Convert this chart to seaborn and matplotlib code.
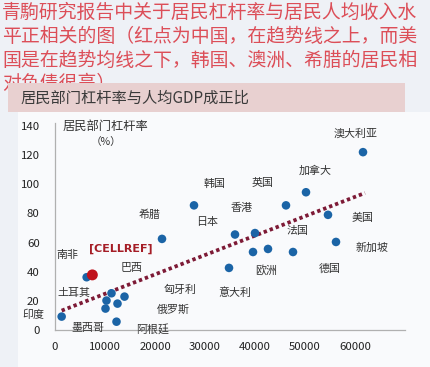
import numpy as np
import pandas as pd
import matplotlib
matplotlib.use("Agg")
import matplotlib.pyplot as plt
import seaborn as sns
from matplotlib.patches import Rectangle

sns.set_theme(style="white")
plt.rcParams['font.family'] = ['Noto Sans CJK SC', 'DejaVu Sans']

# --- datos ---
gdp = [61600, 50200, 46200, 54600, 27800, 21400, 36000, 40000, 39600, 42600,
       47600, 56200, 34800, 6330, 11300, 10300, 13900, 12500, 10100, 12300, 1330]
leverage = [122, 94.5, 85.5, 79, 85.5, 62.5, 65.5, 66.5, 53.5, 55.6,
            53.5, 60.4, 42.6, 36.2, 25.2, 20.2, 22.9, 18.1, 14.7, 5.7, 9.2]
china_gdp = [7470]
china_leverage = [37.8]
trend_gdp = [1330, 62000]
trend_leverage = [13.3, 94]

x_ticks = [0, 10000, 20000, 30000, 40000, 50000, 60000]
y_ticks = [0, 20, 40, 60, 80, 100, 120, 140]

# etiquetas de países (texto, x, y)
labels = [("澳大利亚", 60200, 134.5), ("加拿大", 52000, 109), ("韩国", 32000, 100),
          ("英国", 41600, 100.6), ("香港", 37400, 83.5), ("日本", 30400, 74),
          ("希腊", 19000, 79), ("法国", 48600, 68), ("美国", 61600, 77),
          ("新加坡", 63400, 56.5), ("德国", 55000, 42), ("欧洲", 42200, 40.7),
          ("意大利", 36000, 25.5), ("南非", 2400, 51.7), ("巴西", 15400, 42.7),
          ("土耳其", 3800, 25.5), ("匈牙利", 25000, 27.5), ("印度", -4400, 10.3),
          ("俄罗斯", 23600, 13.8), ("墨西哥", 6600, 1.4), ("阿根廷", 19600, 0.7)]

header = ["青駒研究报告中关于居民杠杆率与居民人均收入水",
          "平正相关的图（红点为中国，在趋势线之上，而美",
          "国是在趋势均线之下，韩国、澳洲、希腊的居民相",
          "对负债很高）"]

W, H = 431, 367
fig = plt.figure(figsize=(W / 100, H / 100), dpi=100, facecolor="#eef1f6")

# fondo claro de la zona del gráfico
fig.patches.append(Rectangle((18 / W, 0), 1, 1 - 112 / H, transform=fig.transFigure,
                             facecolor="#f9fafc", edgecolor="none", zorder=0))

# cabecera roja
for i, line in enumerate(header):
    fig.text(2 / W, 1 - (12.5 + i * 23.8) / H, line, color="#dc4e58", fontsize=13.6,
             va="center", ha="left", zorder=2)

# banda rosa con el título
fig.patches.append(Rectangle((8 / W, 1 - 112 / H), 397 / W, 29 / H, transform=fig.transFigure,
                             facecolor="#e8d0d0", edgecolor="none", zorder=5))
fig.text(20 / W, 1 - 98 / H, "居民部门杠杆率与人均GDP成正比", color="#3a3a3a",
         fontsize=11, fontweight="medium", va="center", ha="left", zorder=6)

ax = fig.add_axes([55 / W, 37 / H, 350 / W, 207 / H])
ax.set_zorder(10)
ax.patch.set_alpha(0)

df = pd.DataFrame({"gdp": gdp, "leverage": leverage})
sns.scatterplot(data=df, x="gdp", y="leverage", color="#1b64a6", s=38,
                edgecolor="none", ax=ax, zorder=3)
sns.scatterplot(x=china_gdp, y=china_leverage, color="#c0121c", s=62,
                edgecolor="none", ax=ax, zorder=4)
ax.plot(trend_gdp, trend_leverage, color="#7d1a36", linewidth=2.7,
        linestyle=(0, (0.9, 0.8)), zorder=2)

for txt, lx, ly in labels:
    ax.text(lx, ly, txt, fontsize=7.9, color="#333333", ha="center", va="center",
            clip_on=False)
ax.text(13200, 55.8, "[CELLREF]", fontsize=8, color="#a51d26", fontweight="bold",
        ha="center", va="center", family=["DejaVu Sans"])
ax.text(10000, 139.5, "居民部门杠杆率", fontsize=8.8, color="#333333", ha="center", va="center")
ax.text(10200, 129, "（%）", fontsize=7.6, color="#333333", ha="center", va="center")

ax.set_xlim(0, 70000)
ax.set_ylim(0, 142)
ax.set_xticks(x_ticks)
ax.set_yticks(y_ticks)
ax.set_xlabel("")
ax.set_ylabel("")
ax.tick_params(axis="both", length=0, labelsize=8.2, colors="#222222")
ax.tick_params(axis="x", pad=9)
ax.tick_params(axis="y", pad=11)
for s in ["top", "right"]:
    ax.spines[s].set_visible(False)
for s in ["left", "bottom"]:
    ax.spines[s].set_color("#b0b0b0")
    ax.spines[s].set_linewidth(0.9)
ax.grid(False)

fig.savefig("out.png", dpi=100, facecolor=fig.get_facecolor())
